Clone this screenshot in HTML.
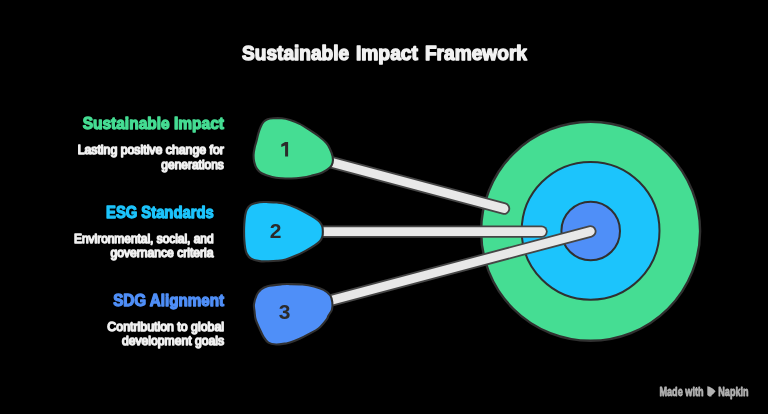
<!DOCTYPE html>
<html><head><meta charset="utf-8">
<style>
html,body{margin:0;padding:0;background:#000;}
body{width:768px;height:414px;overflow:hidden;}
svg{display:block;filter:blur(0.35px);}
text{font-family:"Liberation Sans",sans-serif;}
</style></head>
<body>
<svg width="768" height="414" viewBox="0 0 768 414">
<rect width="768" height="414" fill="#000"/>
<circle cx="590.6" cy="231.3" r="109.5" fill="#45dd93" stroke="#303030" stroke-width="2.4"/>
<circle cx="590.6" cy="230.8" r="68.9" fill="#1cc4fc" stroke="#303030" stroke-width="2.0"/>
<circle cx="590.7" cy="231" r="29.3" fill="#4f8ff8" stroke="#303030" stroke-width="2.0"/>
<g stroke-linecap="round">
<line x1="285.5" y1="150.0" x2="504.0" y2="208.6" stroke="#464646" stroke-width="12.4"/>
<line x1="285.5" y1="150.0" x2="504.0" y2="208.6" stroke="#e8e8e8" stroke-width="8.8"/>
<line x1="275.5" y1="231.6" x2="541.5" y2="231.6" stroke="#464646" stroke-width="12.4"/>
<line x1="275.5" y1="231.6" x2="541.5" y2="231.6" stroke="#e8e8e8" stroke-width="8.8"/>
<line x1="284.6" y1="312.8" x2="590.3" y2="231.4" stroke="#464646" stroke-width="12.4"/>
<line x1="284.6" y1="312.8" x2="590.3" y2="231.4" stroke="#e8e8e8" stroke-width="8.8"/>
</g>
<path d="M 267.47 119.25 C 269.08 118.64 270.83 118.43 273.23 118.27 C 275.63 118.11 279.07 118.00 281.86 118.29 C 284.66 118.58 287.03 119.07 289.99 120.00 C 292.94 120.93 296.40 122.27 299.58 123.88 C 302.76 125.48 305.89 127.55 309.08 129.61 C 312.27 131.67 315.84 134.00 318.72 136.22 C 321.61 138.44 324.54 140.87 326.40 142.95 C 328.27 145.03 328.87 146.49 329.90 148.70 C 330.93 150.92 332.15 153.92 332.60 156.25 C 333.06 158.59 333.06 160.83 332.61 162.71 C 332.17 164.60 331.64 165.96 329.93 167.58 C 328.22 169.20 325.42 171.08 322.35 172.43 C 319.28 173.78 315.10 174.79 311.50 175.67 C 307.91 176.56 304.14 177.25 300.78 177.72 C 297.43 178.20 294.52 178.40 291.37 178.50 C 288.22 178.60 285.05 178.55 281.87 178.31 C 278.68 178.06 275.61 177.88 272.25 177.04 C 268.90 176.21 264.27 174.65 261.72 173.30 C 259.17 171.95 258.20 170.78 256.96 168.94 C 255.71 167.11 254.84 164.68 254.28 162.29 C 253.72 159.91 253.51 157.20 253.60 154.66 C 253.68 152.11 254.32 149.28 254.80 147.02 C 255.28 144.76 255.90 143.35 256.49 141.07 C 257.08 138.79 257.66 135.74 258.37 133.34 C 259.07 130.94 259.86 128.59 260.73 126.69 C 261.61 124.79 262.48 123.16 263.60 121.92 C 264.73 120.68 265.87 119.85 267.47 119.25 Z" fill="#45dd93" stroke="#303030" stroke-width="2.1"/>
<path d="M 244.05 231.65 C 244.05 229.16 244.07 226.87 244.25 224.18 C 244.43 221.49 244.71 217.97 245.14 215.51 C 245.57 213.05 245.83 211.24 246.82 209.43 C 247.82 207.62 248.95 205.86 251.11 204.65 C 253.27 203.44 256.89 202.60 259.79 202.17 C 262.68 201.75 265.57 202.04 268.45 202.09 C 271.34 202.14 274.23 202.20 277.12 202.50 C 280.00 202.80 282.52 202.98 285.77 203.90 C 289.02 204.81 293.25 206.50 296.61 207.97 C 299.98 209.45 302.97 211.08 305.98 212.74 C 308.99 214.39 312.35 216.35 314.66 217.91 C 316.97 219.46 318.57 220.62 319.85 222.09 C 321.14 223.55 321.85 225.07 322.35 226.67 C 322.85 228.26 322.85 229.99 322.85 231.65 C 322.85 233.31 322.85 235.04 322.35 236.63 C 321.85 238.23 321.14 239.75 319.85 241.21 C 318.57 242.68 316.97 243.84 314.66 245.39 C 312.35 246.95 308.99 248.91 305.98 250.56 C 302.97 252.22 299.98 253.85 296.61 255.33 C 293.25 256.80 289.02 258.49 285.77 259.40 C 282.52 260.32 280.00 260.50 277.12 260.80 C 274.23 261.10 271.34 261.16 268.45 261.21 C 265.57 261.26 262.68 261.55 259.79 261.13 C 256.89 260.70 253.27 259.86 251.11 258.65 C 248.95 257.44 247.82 255.68 246.82 253.87 C 245.83 252.06 245.57 250.25 245.14 247.79 C 244.71 245.33 244.43 241.81 244.25 239.12 C 244.07 236.43 244.05 234.14 244.05 231.65 Z" fill="#1cc4fc" stroke="#303030" stroke-width="2.1"/>
<path d="M 260.66 289.82 C 262.42 288.41 263.90 287.07 267.43 286.15 C 270.97 285.23 278.10 284.63 281.86 284.29 C 285.63 283.95 286.58 284.07 290.01 284.10 C 293.44 284.13 298.43 284.09 302.43 284.49 C 306.42 284.88 310.43 285.56 313.97 286.45 C 317.50 287.34 320.91 288.31 323.64 289.82 C 326.36 291.32 328.87 293.41 330.32 295.48 C 331.76 297.55 332.03 299.91 332.31 302.25 C 332.59 304.59 332.65 307.28 332.00 309.52 C 331.35 311.75 329.32 313.99 328.40 315.68 C 327.48 317.37 328.10 317.57 326.50 319.66 C 324.91 321.75 321.71 325.82 318.83 328.20 C 315.94 330.58 312.37 332.18 309.17 333.95 C 305.97 335.72 302.83 337.37 299.64 338.81 C 296.44 340.25 292.49 341.80 290.01 342.60 C 287.53 343.40 287.06 343.28 284.74 343.60 C 282.42 343.92 278.81 344.68 276.09 344.52 C 273.37 344.36 270.51 343.92 268.42 342.64 C 266.33 341.37 264.99 339.11 263.55 336.87 C 262.11 334.63 261.09 332.07 259.78 329.21 C 258.47 326.34 256.58 322.69 255.70 319.66 C 254.82 316.63 254.78 313.60 254.50 311.01 C 254.22 308.42 253.60 306.88 253.99 304.14 C 254.39 301.41 255.77 296.98 256.88 294.59 C 257.99 292.21 258.90 291.23 260.66 289.82 Z" fill="#4f8ff8" stroke="#303030" stroke-width="2.1"/>
<g font-size="21" font-weight="bold" fill="#2b2b2b" text-anchor="middle">
<path d="M285.1 141.9 H288.1 V156.6 H285.1 V145.5 L281.3 146.9 V144.3 Z"/>
<text x="275.7" y="238.3">2</text>
<text x="284.65" y="319.3">3</text>
</g>
<text x="242.10" y="60.40" font-size="20.5" font-weight="bold" fill="#f2f2f2" stroke="#f2f2f2" stroke-width="1.4" stroke-linejoin="round" textLength="107.00" lengthAdjust="spacingAndGlyphs">Sustainable</text>
<text x="355.90" y="60.40" font-size="20.5" font-weight="bold" fill="#f2f2f2" stroke="#f2f2f2" stroke-width="1.4" stroke-linejoin="round" textLength="62.10" lengthAdjust="spacingAndGlyphs">Impact</text>
<text x="424.90" y="60.40" font-size="20.5" font-weight="bold" fill="#f2f2f2" stroke="#f2f2f2" stroke-width="1.4" stroke-linejoin="round" textLength="102.10" lengthAdjust="spacingAndGlyphs">Framework</text>
<text x="82.65" y="129.20" font-size="16.6" font-weight="bold" fill="#45dd93" stroke="#45dd93" stroke-width="1.3" stroke-linejoin="round" textLength="141.30" lengthAdjust="spacingAndGlyphs">Sustainable Impact</text>
<text x="106.05" y="217.80" font-size="16.6" font-weight="bold" fill="#1cc4fc" stroke="#1cc4fc" stroke-width="1.3" stroke-linejoin="round" textLength="107.60" lengthAdjust="spacingAndGlyphs">ESG Standards</text>
<text x="113.15" y="306.40" font-size="16.6" font-weight="bold" fill="#4f8ff8" stroke="#4f8ff8" stroke-width="1.3" stroke-linejoin="round" textLength="111.00" lengthAdjust="spacingAndGlyphs">SDG Alignment</text>
<text x="77.65" y="154.40" font-size="12.8" font-weight="normal" fill="#f0f0f0" stroke="#f0f0f0" stroke-width="1.5" stroke-linejoin="round" textLength="146.20" lengthAdjust="spacingAndGlyphs">Lasting positive change for</text>
<text x="161.35" y="169.00" font-size="12.8" font-weight="normal" fill="#f0f0f0" stroke="#f0f0f0" stroke-width="1.5" stroke-linejoin="round" textLength="62.50" lengthAdjust="spacingAndGlyphs">generations</text>
<text x="74.05" y="243.00" font-size="12.8" font-weight="normal" fill="#f0f0f0" stroke="#f0f0f0" stroke-width="1.5" stroke-linejoin="round" textLength="139.50" lengthAdjust="spacingAndGlyphs">Environmental, social, and</text>
<text x="110.55" y="257.00" font-size="12.8" font-weight="normal" fill="#f0f0f0" stroke="#f0f0f0" stroke-width="1.5" stroke-linejoin="round" textLength="103.00" lengthAdjust="spacingAndGlyphs">governance criteria</text>
<text x="107.35" y="331.30" font-size="12.8" font-weight="normal" fill="#f0f0f0" stroke="#f0f0f0" stroke-width="1.5" stroke-linejoin="round" textLength="116.70" lengthAdjust="spacingAndGlyphs">Contribution to global</text>
<text x="122.00" y="345.00" font-size="12.8" font-weight="normal" fill="#f0f0f0" stroke="#f0f0f0" stroke-width="1.5" stroke-linejoin="round" textLength="102.05" lengthAdjust="spacingAndGlyphs">development goals</text>
<text x="659.40" y="395.90" font-size="12.2" font-weight="bold" fill="#b2b2b2" stroke="#b2b2b2" stroke-width="0.8" stroke-linejoin="round" textLength="44.20" lengthAdjust="spacingAndGlyphs">Made with</text>
<text x="718.30" y="396.00" font-size="12.6" font-weight="bold" fill="#b2b2b2" stroke="#b2b2b2" stroke-width="0.8" stroke-linejoin="round" textLength="30.30" lengthAdjust="spacingAndGlyphs">Napkin</text>
<path d="M707.3 386.3 L709.5 386.8 L713 388.8 L715.6 391.3 L713.2 394 L711.6 395.3 L711.4 396.4 L709.2 396.4 L707.3 395 Z" fill="#b2b2b2"/>
</svg>
</body></html>
